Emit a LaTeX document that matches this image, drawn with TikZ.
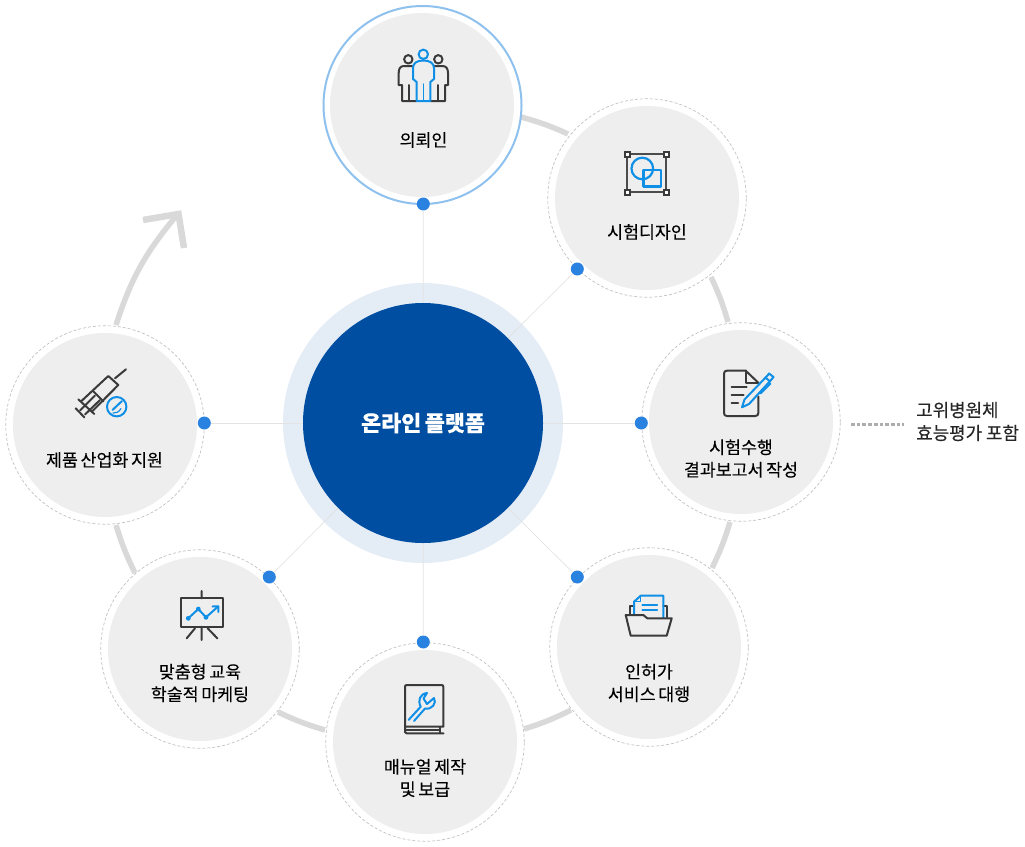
\documentclass[tikz,border=0pt]{standalone}
\usepackage{fontspec}
\setmainfont[FakeBold=0.12,WordSpace=0.7]{Noto Sans CJK KR}
\newfontfamily\krmed[FakeBold=0.4]{Noto Sans CJK KR}
\usetikzlibrary{calc}
\definecolor{hubblue}{HTML}{004EA2}
\definecolor{hubring}{HTML}{E4ECF5}
\definecolor{dotblue}{HTML}{2A82E0}
\definecolor{icblue}{HTML}{0F8FE6}
\definecolor{icdark}{HTML}{3A3A3A}
\definecolor{ringblue}{HTML}{8FC1EE}
\definecolor{disc}{HTML}{EEEEEE}
\definecolor{arcgrey}{HTML}{D9D9D9}
\tikzset{
  x=1pt,y=1pt,
  discnode/.style={circle,fill=disc,minimum size=184pt,inner sep=0pt},
  halo/.style={circle,draw=black!24,dash pattern=on 3pt off 2pt,line width=.7pt,minimum size=198.5pt,inner sep=0pt},
  dotnode/.style={circle,fill=dotblue,minimum size=13pt,inner sep=0pt},
  spoke/.style={draw=black!11,line width=.7pt},
  arcline/.style={draw=arcgrey,line width=5.5pt},
  lab/.style={align=center,text=black,font=\fontsize{17.3}{22.5}\selectfont,inner sep=0pt},
  icd/.style={draw=icdark,line width=2pt,line join=round,line cap=round},
  icb/.style={draw=icblue,line width=2pt,line join=round,line cap=round},
}
\begin{document}
\begin{tikzpicture}
\useasboundingbox (0,0) rectangle (1025,-846);
% coordinates of arc ends
\coordinate (a1s) at (521,-117); \coordinate (a1e) at (568,-134);
\coordinate (a2s) at (711,-277); \coordinate (a2e) at (728,-322);
\coordinate (a3s) at (730,-522); \coordinate (a3e) at (712,-568);
\coordinate (a4s) at (571,-710); \coordinate (a4e) at (524,-729);
\coordinate (a5s) at (325,-730); \coordinate (a5e) at (278,-712);
\coordinate (a6s) at (135,-573); \coordinate (a6e) at (116,-525);
\coordinate (a7s) at (116,-325); \coordinate (a7e) at (177,-215);
\coordinate (hl) at (143,-220); \coordinate (hr) at (184,-248); \coordinate (ht) at (178.5,-214);
\draw[arcline] (a1s) to[bend left=4.5] (a1e);
\draw[arcline] (a2s) to[bend left=4.5] (a2e);
\draw[arcline] (a3s) to[bend left=4.5] (a3e);
\draw[arcline] (a4s) to[bend left=4.5] (a4e);
\draw[arcline] (a5s) to[bend left=4.5] (a5e);
\draw[arcline] (a6s) to[bend left=4.5] (a6e);
\draw[arcline] (a7s) to[bend left=11] (a7e);
\draw[arcline,line width=6.5pt,line join=miter] (hl) -- (ht) -- (hr);
% hub ring
\node[circle,fill=hubring,minimum size=280pt,inner sep=0pt] (ring) at (423,-423) {};
% discs
\node[circle,fill=white,draw=ringblue,line width=2pt,minimum size=198pt,inner sep=0pt] (c1) at (422.5,-105) {};
\node[discnode] (i1) at (422,-105) {};
\foreach \n/\x/\y in {2/647/198,3/741/422,4/649/647,5/425/742,6/200/649,7/105/425}{
  \node[halo,fill=white] (c\n) at (\x,-\y) {};
  \node[discnode] (i\n) at (c\n) {};
}
% dots
\node[dotnode] (d1) at (423.3,-204) {};
\node[dotnode] (d2) at (577.3,-269) {};
\node[dotnode] (d3) at (641.3,-423) {};
\node[dotnode] (d4) at (577.3,-577) {};
\node[dotnode] (d5) at (423.3,-642) {};
\node[dotnode] (d6) at (269.3,-577) {};
\node[dotnode] (d7) at (204.3,-423) {};
% spokes
\coordinate (o) at (423,-423);
\foreach \n in {1,...,7}{ \draw[spoke] (o) -- (d\n); }
\node[circle,fill=hubblue,minimum size=240pt,inner sep=0pt,text=white,font=\fontsize{21.8}{26}\bfseries\selectfont] (hub) at (o) {온라인 플랫폼};
% labels
\node[lab] (t1) at (423.5,-140) {의뢰인};
\node[lab] (t2) at (647,-232) {시험디자인};
\node[lab] (t3) at (741,-458.5) {시험수행\\결과보고서 작성};
\node[lab] (t4) at (649,-683) {인허가\\서비스 대행};
\node[lab] (t5) at (425,-778) {매뉴얼 제작\\및 보급};
\node[lab] (t6) at (200,-683) {맞춤형 교육\\학술적 마케팅};
\node[lab] (t7) at (104.5,-460) {제품 산업화 지원};
% annotation
\coordinate (n1) at (851,-424); \coordinate (n2) at (904,-424);
\draw[draw=black!32,line width=3pt,dash pattern=on 3.7pt off 2pt] (n1) -- (n2);
\node[anchor=west,align=left,inner sep=0pt,text=black!85,font=\krmed\fontsize{17.9}{23}\selectfont] (note) at (916,-421.5) {고위병원체\\효능평가 포함};
% icon 1: people
\draw[icd] (408.3,-59.3) circle (4.2);
\draw[icd] (438.3,-59.3) circle (4.2);
\draw[icd] (412,-66) -- (404,-66) .. controls (400,-66) and (398.7,-69) .. (398.7,-73) -- (398.7,-85) -- (402,-85) -- (402,-101) -- (416.5,-101);
\draw[icd] (434.5,-66) -- (442.5,-66) .. controls (446.5,-66) and (448,-69) .. (448,-73) -- (448,-85) -- (445,-85) -- (445,-101) -- (430.5,-101);
\draw[icd] (408.5,-85) -- (408.5,-101) (438,-85) -- (438,-101);
\draw[icb] (423.3,-54.3) circle (4.7);
\draw[icb] (416.7,-101) -- (416.7,-82) -- (413,-79) -- (413,-68) .. controls (413,-63) and (417,-60.5) .. (423.3,-60.5) .. controls (429.6,-60.5) and (434,-63) .. (434,-68) -- (434,-79) -- (430.3,-82) -- (430.3,-101) -- cycle;
\draw[icb,line width=1.2pt] (423.5,-84) -- (423.5,-100);
% icon 2: shapes
\draw[icd,draw=black!70] (627.3,-154.3) rectangle (666.3,-192.3);
\foreach \x/\y in {627.3/154.3,666.3/154.3,627.3/192.3,666.3/192.3}{
 \draw[draw=icdark,fill=white,line width=2pt] (\x-2.5,-\y-2.5) rectangle (\x+2.5,-\y+2.5);
}
\draw[icb,line width=2.2pt] (642.3,-168.5) circle (10.8);
\draw[icb,line width=2.2pt] (643.5,-170) rectangle (661,-186.5);
% icon 3: document and pen
\draw[icd] (758.3,-382.7) -- (745.7,-370.7) -- (727,-370.7) .. controls (725,-370.7) and (724,-371.7) .. (724,-373.7) -- (724,-413) .. controls (724,-415) and (725,-416) .. (727,-416) -- (755.3,-416) .. controls (757.3,-416) and (758.3,-415) .. (758.3,-413) -- (758.3,-396.5);
\draw[icd] (745.7,-370.7) -- (745.7,-382.7) -- (758.3,-382.7);
\draw[icd] (731.5,-387.3) -- (746.5,-387.3) (731.5,-395) -- (743.5,-395) (731.5,-403.3) -- (738,-403.3);
\draw[icb,fill=disc] (742,-407.3) -- (744.5,-399.5) -- (767.5,-375.5) -- (769,-373.5) -- (773.5,-377) -- (771.5,-379.5) -- (749,-404) -- cycle;
\draw[icb] (765.5,-377.5) -- (770,-381.5) (770.5,-383.5) -- (760.5,-393.5);
% icon 4: folder
\draw[icd] (630,-614) -- (630,-605.7) -- (634,-605.7) (663.3,-605.7) -- (667.3,-605.7) -- (667.3,-617);
\draw[icb] (634,-614.5) -- (634,-601.7) -- (640.7,-595.7) -- (663.3,-595.7) -- (663.3,-617.5);
\draw[icb,line width=1.3pt] (634,-601.7) -- (640.7,-601.7) -- (640.7,-595.7);
\draw[icb,line width=1.7pt] (642.3,-605) -- (657.3,-605) (642.3,-610) -- (657.3,-610);
\draw[icd] (625.7,-615) -- (643.3,-615) -- (647.3,-618.3) -- (671.7,-618.3) -- (666.7,-635.7) -- (630.7,-635.7) -- cycle;
% icon 5: book
\draw[icd] (405,-726.7) -- (405,-687) .. controls (405,-685.5) and (405.5,-685) .. (407,-685) -- (441.5,-685) .. controls (443,-685) and (443.3,-685.5) .. (443.3,-687) -- (443.3,-726.7) -- (405,-726.7);
\draw[icd] (405,-726.7) -- (405,-732) .. controls (405,-733) and (405.5,-733.3) .. (406.5,-733.3) -- (443.5,-733.3);
\draw[icd,line width=1.3pt] (405.5,-730) -- (440,-730) (440,-726.7) -- (440,-733.3);
\draw[icb] (408.5,-720) -- (420.7,-706.7) .. controls (417.5,-700) and (420,-694) .. (427,-693) -- (423.5,-698.5) -- (427,-704) -- (434,-698) .. controls (437,-703) and (432,-710) .. (425,-708.5) -- (414,-721);
% icon 6: chart
\draw[icd] (180.7,-598.3) rectangle (222.7,-626.7);
\draw[icd] (201.7,-591) -- (201.7,-598.3) (201.7,-626.7) -- (201.7,-640) (195,-628.3) -- (186.7,-638.3) (207.7,-628.3) -- (217.3,-638.3);
\draw[icb] (188.3,-618.3) -- (198.3,-609) -- (206,-617.3) -- (217.5,-607);
\draw[icb] (212.5,-606.5) -- (218.3,-606.3) -- (218.3,-612);
\fill[icblue] (188.3,-618.3) circle (2.4) (198.3,-609) circle (2.4) (206,-617.3) circle (2.4);
% icon 7: syringe
\draw[icd] (126,-369.3) -- (115,-378.3);
\draw[icd] (108.3,-376) -- (118.3,-385) -- (92.5,-411) (108.3,-376) -- (81.5,-401);
\draw[icd] (78.3,-399.3) -- (94.3,-414);
\draw[icd] (93.5,-391.5) -- (103.5,-401.5);
\draw[icd] (95,-395.5) -- (80,-410.5) (100,-400) -- (85,-414.5);
\draw[icd] (75.7,-408.3) -- (84.3,-417.3);
\draw[icb] (116.7,-406.7) circle (9.7);
\draw[icb] (122,-401) -- (112.5,-410);
\draw[icb,line width=1.2pt] (113,-413) .. controls (116,-413.5) and (119,-412) .. (121,-408.5);
\end{tikzpicture}
\end{document}
